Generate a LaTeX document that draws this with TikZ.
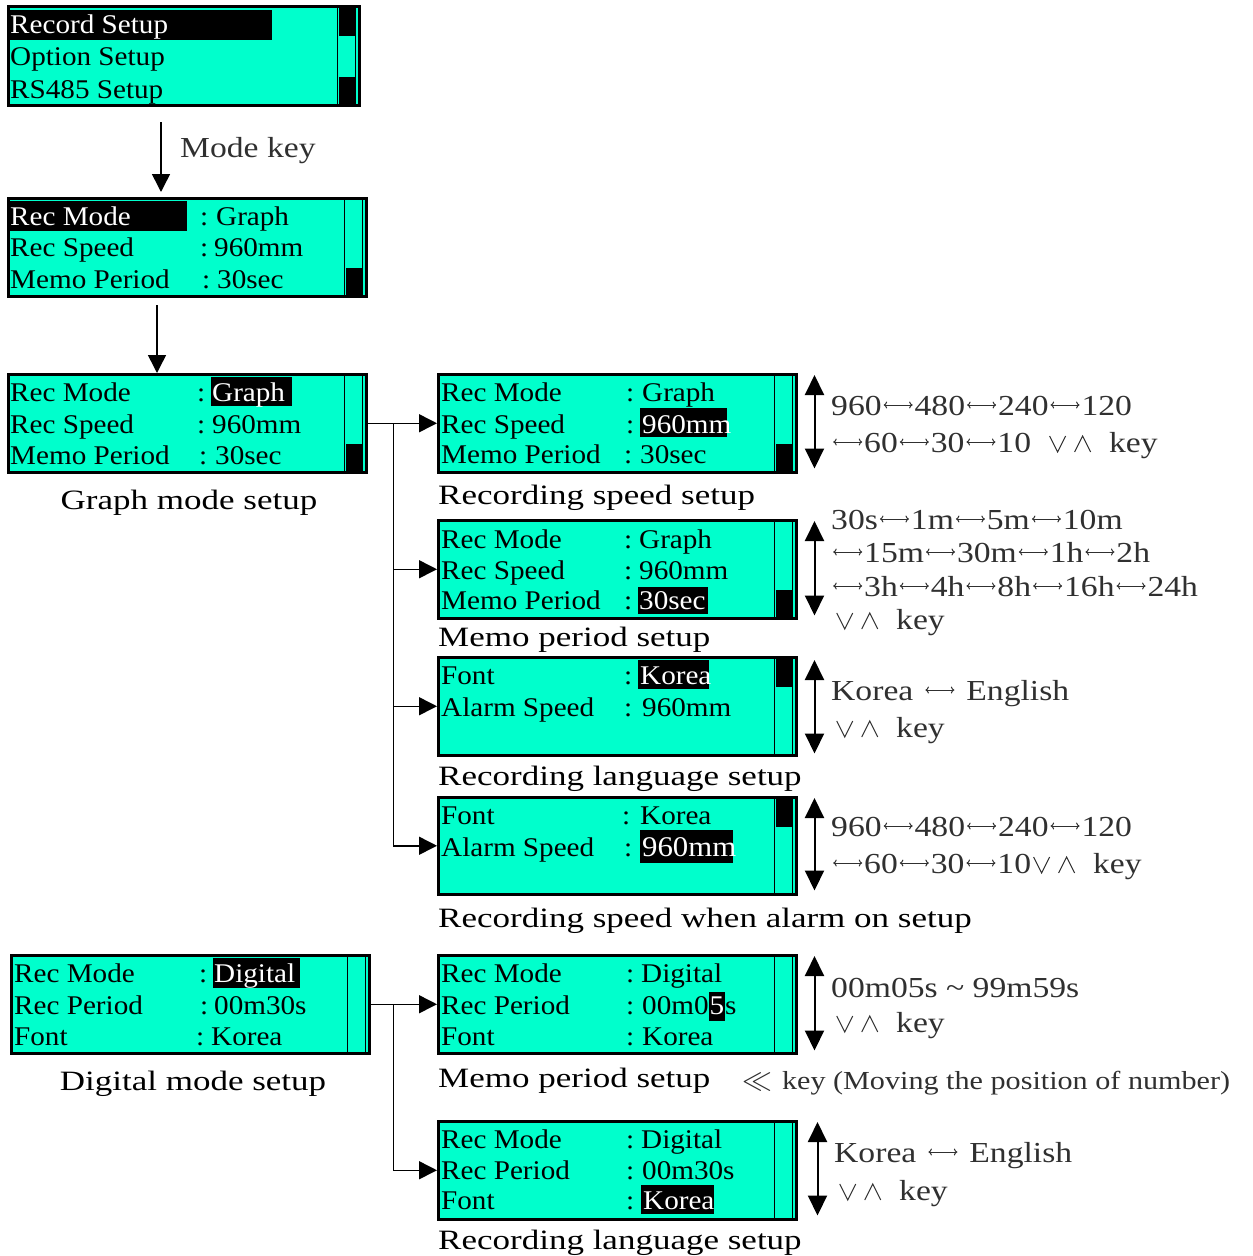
\documentclass[tikz,border=0pt]{standalone}
\usepackage{fontspec}
\usepackage{graphicx}
\setmainfont{Liberation Serif}
\newfontfamily\lcdfont[FakeStretch=1.08]{Liberation Serif}
\newfontfamily\capfont[FakeStretch=1.25]{Liberation Serif}
\newfontfamily\sidefont[FakeStretch=1.16]{Liberation Serif}
\usetikzlibrary{arrows.meta}
\definecolor{lcdcyan}{HTML}{00FFCC}
\definecolor{sidegray}{HTML}{303030}
\newcommand{\lra}{\hspace{1.5pt}\tikz[baseline=-10pt]{\draw[draw=sidegray, line width=1pt, {To[length=3.5pt,width=7pt]}-{To[length=3.5pt,width=7pt]}] (0pt,0pt) -- (29pt,0pt);}\hspace{1.5pt}}
\newcommand{\vakeys}{\tikz[baseline=0pt]{\draw[draw=sidegray, line width=1pt, line join=miter] (0pt,16pt) -- (8pt,0pt) -- (16pt,16pt); \draw[draw=sidegray, line width=1pt, line join=miter] (25pt,0pt) -- (33pt,16pt) -- (41pt,0pt);}}
\newcommand{\sbar}[1]{%
  \draw[line width=1pt] ([xshift=-23pt,yshift=-1pt]#1.north east) -- ([xshift=-23pt,yshift=1pt]#1.south east);
  \draw[line width=1pt] ([xshift=-5pt,yshift=-1pt]#1.north east) -- ([xshift=-5pt,yshift=1pt]#1.south east);}
\newcommand{\sbtop}[1]{\fill ([xshift=-22pt,yshift=-2pt]#1.north east) rectangle ([xshift=-6pt,yshift=-31pt]#1.north east);}
\newcommand{\sbbot}[1]{\fill ([xshift=-22pt,yshift=2pt]#1.south east) rectangle ([xshift=-6pt,yshift=30pt]#1.south east);}
\tikzset{
  lcd/.style={draw=black, line width=2.5pt, fill=lcdcyan, inner sep=0pt, anchor=north west, minimum height=98pt, minimum width=358pt},
  lt/.style={anchor=base west, inner sep=0pt, font=\lcdfont\fontsize{27}{30}\selectfont},
  hlt/.style={lt, text=white},
  captxt/.style={anchor=base west, inner sep=0pt, font=\capfont\fontsize{28}{30}\selectfont},
  side/.style={anchor=base west, inner sep=0pt, text=sidegray, font=\sidefont\fontsize{29}{32}\selectfont},
  conn/.style={line width=1.5pt, -{Triangle[width=18pt,length=18pt]}},
  plain/.style={line width=1.5pt},
  dbl/.style={line width=2pt, {Triangle[width=19pt,length=20pt]}-{Triangle[width=19pt,length=20pt]}}
}
\begin{document}
\begin{tikzpicture}[x=1pt,y=-1pt]
\useasboundingbox (0,0) rectangle (1253,1256);

% ---------- Box 1 ----------
\node[lcd, minimum width=351pt, minimum height=99pt] (b1) at (7,5) {};
\sbar{b1}\sbtop{b1}\sbbot{b1}
\fill (10,10) rectangle (272,40);
\node[hlt] (b1a) at (10,33) {Record Setup};
\node[lt] (b1b) at (10,65) {Option Setup};
\node[lt] (b1c) at (10,98) {RS485 Setup};

% ---------- Box 2 ----------
\node[lcd] (b2) at (7,197) {};
\sbar{b2}\sbbot{b2}
\fill (10,201) rectangle (187,231);
\node[hlt] (b2a) at (10,225) {Rec Mode};
\node[lt] (b2ac) at (200,225) {:};
\node[lt] (b2av) at (216,225) {Graph};
\node[lt] (b2b) at (10,256) {Rec Speed};
\node[lt] (b2bc) at (200,256) {:};
\node[lt] (b2bv) at (214,256) {960mm};
\node[lt] (b2c) at (10,288) {Memo Period};
\node[lt] (b2cc) at (202,288) {:};
\node[lt] (b2cv) at (217,288) {30sec};

\coordinate (m1) at (161,122);
\draw[conn] (m1) -- ([yshift=5pt]m1 |- b2.north);
\node[side] (modekey) at (180,157) {Mode key};

% ---------- Box 3 ----------
\node[lcd] (b3) at (7,373) {};
\sbar{b3}\sbbot{b3}
\fill (211,377) rectangle (292,406);
\node[lt] (b3a) at (10,401) {Rec Mode};
\node[lt] (b3ac) at (197,401) {:};
\node[hlt] (b3av) at (212,401) {Graph};
\node[lt] (b3b) at (10,433) {Rec Speed};
\node[lt] (b3bc) at (197,433) {:};
\node[lt] (b3bv) at (212,433) {960mm};
\node[lt] (b3c) at (10,464) {Memo Period};
\node[lt] (b3cc) at (199,464) {:};
\node[lt] (b3cv) at (215,464) {30sec};
\node[captxt, anchor=base] (cap3) at (189,509) {Graph mode setup};

\coordinate (m2) at (157,305);
\draw[conn] (m2) -- (m2 |- b3.north);

% ---------- Box 4 ----------
\node[lcd] (b4) at (437,373) {};
\sbar{b4}\sbbot{b4}
\fill (640,408) rectangle (727,437);
\node[lt] (b4a) at (441,401) {Rec Mode};
\node[lt] (b4ac) at (626,401) {:};
\node[lt] (b4av) at (642,401) {Graph};
\node[lt] (b4b) at (441,433) {Rec Speed};
\node[lt] (b4bc) at (626,433) {:};
\node[hlt] (b4bv) at (642,433) {960mm};
\node[lt] (b4c) at (441,463) {Memo Period};
\node[lt] (b4cc) at (624,463) {:};
\node[lt] (b4cv) at (640,463) {30sec};
\draw[dbl] ([xshift=17pt,yshift=-2pt]b4.north east) -- ([xshift=17pt,yshift=5pt]b4.south east);
\node[side] (s4a) at (831,415) {960\lra480\lra240\lra120};
\node[side] (s4b) at (831,452) {\lra60\lra30\lra10\hspace{18pt}\vakeys\hspace{18pt}key};
\node[captxt] (cap4) at (438,504) {Recording speed setup};

% ---------- Box 5 ----------
\node[lcd] (b5) at (437,519) {};
\sbar{b5}\sbbot{b5}
\fill (638,587) rectangle (708,614);
\node[lt] (b5a) at (441,548) {Rec Mode};
\node[lt] (b5ac) at (624,548) {:};
\node[lt] (b5av) at (639,548) {Graph};
\node[lt] (b5b) at (441,579) {Rec Speed};
\node[lt] (b5bc) at (624,579) {:};
\node[lt] (b5bv) at (639,579) {960mm};
\node[lt] (b5c) at (441,609) {Memo Period};
\node[lt] (b5cc) at (624,609) {:};
\node[hlt] (b5cv) at (639,609) {30sec};
\draw[dbl] ([xshift=17pt,yshift=-2pt]b5.north east) -- ([xshift=17pt,yshift=4pt]b5.south east);
\node[side] (s5a) at (831,529) {30s\lra1m\lra5m\lra10m};
\node[side] (s5b) at (831,562) {\lra15m\lra30m\lra1h\lra2h};
\node[side] (s5c) at (831,596) {\lra3h\lra4h\lra8h\lra16h\lra24h};
\node[side] (s5d) at (836,629) {\vakeys\hspace{18pt}key};
\node[captxt] (cap5) at (438,646) {Memo period setup};

% ---------- Box 6 ----------
\node[lcd] (b6) at (437,656) {};
\sbar{b6}\sbtop{b6}
\fill (638,660) rectangle (709,689);
\node[lt] (b6a) at (441,684) {Font};
\node[lt] (b6ac) at (624,684) {:};
\node[hlt] (b6av) at (640,684) {Korea};
\node[lt] (b6b) at (441,716) {Alarm Speed};
\node[lt] (b6bc) at (624,716) {:};
\node[lt] (b6bv) at (642,716) {960mm};
\draw[dbl] ([xshift=17pt,yshift=-4pt]b6.north east) -- ([xshift=17pt,yshift=3pt]b6.south east);
\node[side] (s6a) at (831,700) {Korea\hspace{10pt}\lra\hspace{10pt}English};
\node[side] (s6b) at (836,737) {\vakeys\hspace{18pt}key};
\node[captxt] (cap6) at (438,785) {Recording language setup};

% ---------- Box 7 ----------
\node[lcd, minimum height=97pt] (b7) at (437,796) {};
\sbar{b7}\sbtop{b7}
\fill (640,830) rectangle (733,863);
\node[lt] (b7a) at (441,824) {Font};
\node[lt] (b7ac) at (622,824) {:};
\node[lt] (b7av) at (640,824) {Korea};
\node[lt] (b7b) at (441,856) {Alarm Speed};
\node[lt] (b7bc) at (624,856) {:};
\node[hlt, font=\lcdfont\fontsize{28.5}{30}\selectfont] (b7bv) at (642,856) {960mm};
\draw[dbl] ([xshift=17pt,yshift=-2pt]b7.north east) -- ([xshift=17pt,yshift=5pt]b7.south east);
\node[side] (s7a) at (831,836) {960\lra480\lra240\lra120};
\node[side] (s7b) at (831,873) {\lra60\lra30\lra10\hspace{2pt}\vakeys\hspace{18pt}key};
\node[captxt] (cap7) at (438,927) {Recording speed when alarm on setup};

% ---------- connectors (graph) ----------
\draw[plain] (b3.east) -- ++(26,0) coordinate (j1);
\draw[conn] (j1) -- (b4.west);
\draw[conn] (j1) |- (b5.west);
\draw[conn] (j1) |- (b6.west);
\draw[conn] (j1) |- (b7.west);

% ---------- Box 8 ----------
\node[lcd] (b8) at (10,954) {};
\sbar{b8}
\fill (213,958) rectangle (300,988);
\node[lt] (b8a) at (14,982) {Rec Mode};
\node[lt] (b8ac) at (199,982) {:};
\node[hlt] (b8av) at (214,982) {Digital};
\node[lt] (b8b) at (14,1014) {Rec Period};
\node[lt] (b8bc) at (200,1014) {:};
\node[lt] (b8bv) at (214,1014) {00m30s};
\node[lt] (b8c) at (14,1045) {Font};
\node[lt] (b8cc) at (196,1045) {:};
\node[lt] (b8cv) at (211,1045) {Korea};
\node[captxt, anchor=base] (cap8) at (193,1090) {Digital mode setup};

% ---------- Box 9 ----------
\node[lcd] (b9) at (437,954) {};
\sbar{b9}
\node[lt] (b9a) at (441,982) {Rec Mode};
\node[lt] (b9ac) at (626,982) {:};
\node[lt] (b9av) at (641,982) {Digital};
\node[lt] (b9b) at (441,1014) {Rec Period};
\node[lt] (b9bc) at (626,1014) {:};
\node[lt] (b9bv) at (642,1014) {00m0};
\node[hlt, fill=black, inner xsep=0.5pt, text height=22pt, text depth=7pt] (b9bh) at (b9bv.base east) {5};
\node[lt] (b9bs) at (b9bh.base east) {s};
\node[lt] (b9c) at (441,1045) {Font};
\node[lt] (b9cc) at (626,1045) {:};
\node[lt] (b9cv) at (642,1045) {Korea};
\draw[dbl] ([xshift=17pt,yshift=-2pt]b9.north east) -- ([xshift=17pt,yshift=4pt]b9.south east);
\node[side] (s9a) at (831,997) {00m05s \textasciitilde\ 99m59s};
\node[side] (s9b) at (836,1032) {\vakeys\hspace{18pt}key};
\node[captxt] (cap9) at (438,1087) {Memo period setup};
\node[side, font=\sidefont\fontsize{26}{28}\selectfont] (s9c) at (742,1089) {\scalebox{1.2}{$\ll$}\hspace{10pt}key (Moving the position of number)};

% ---------- Box 10 ----------
\node[lcd] (b10) at (437,1120) {};
\sbar{b10}
\fill (641,1185) rectangle (714,1214);
\node[lt] (b10a) at (441,1148) {Rec Mode};
\node[lt] (b10ac) at (626,1148) {:};
\node[lt] (b10av) at (641,1148) {Digital};
\node[lt] (b10b) at (441,1179) {Rec Period};
\node[lt] (b10bc) at (626,1179) {:};
\node[lt] (b10bv) at (642,1179) {00m30s};
\node[lt] (b10c) at (441,1209) {Font};
\node[lt] (b10cc) at (626,1209) {:};
\node[hlt] (b10cv) at (643,1209) {Korea};
\draw[dbl] ([xshift=20pt,yshift=-2pt]b10.north east) -- ([xshift=20pt,yshift=5pt]b10.south east);
\node[side] (s10a) at (834,1162) {Korea\hspace{10pt}\lra\hspace{10pt}English};
\node[side] (s10b) at (839,1200) {\vakeys\hspace{18pt}key};
\node[captxt] (cap10) at (438,1249) {Recording language setup};

% ---------- connectors (digital) ----------
\draw[plain] (b8.east) -- ++(23,0) coordinate (j2);
\draw[conn] (j2) -- (b9.west);
\draw[conn] (j2) |- (b10.west);
\end{tikzpicture}
\end{document}
